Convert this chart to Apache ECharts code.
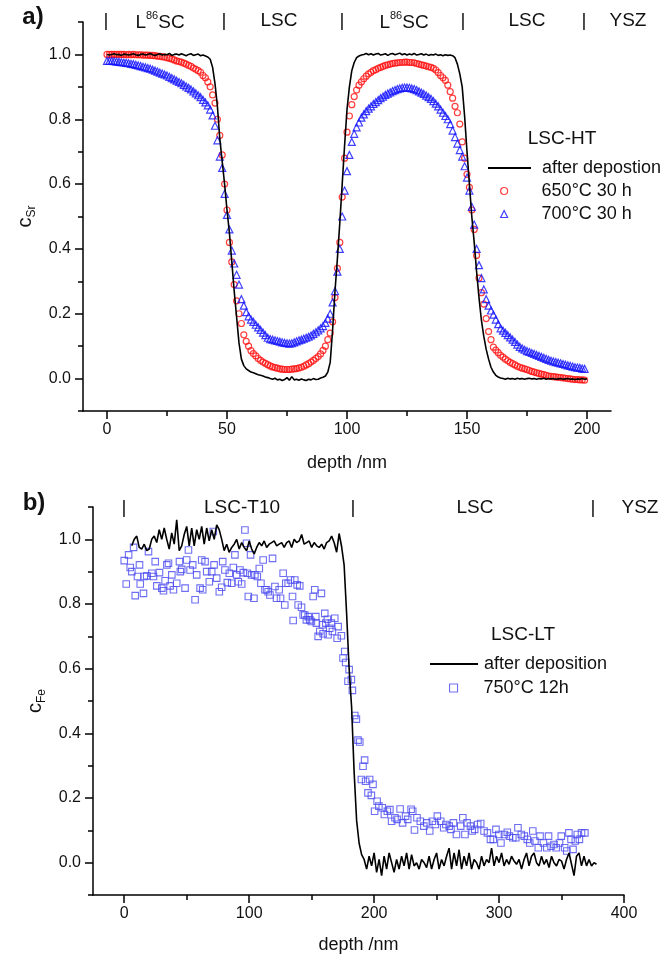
<!DOCTYPE html>
<html><head><meta charset="utf-8">
<script src="https://cdn.jsdelivr.net/npm/echarts@6/dist/echarts.min.js"></script>
<style>html,body{margin:0;padding:0;background:#fff}#c{width:667px;height:967px}</style>
</head><body><div id="c"></div>
<script>
// ---------- Panel a data (c_Sr, LSC-HT) ----------
const depthStartA = 0;      // nm, first sample
const depthStepA = 1;       // nm between samples
const srAfter = [
1.0,0.998,1.0,1.002,0.999,1.0,0.997,1.001,1.0,0.998,
1.0,1.002,0.999,0.997,1.0,1.001,0.998,1.0,1.003,0.999,
0.997,1.0,1.002,0.998,1.0,0.999,1.003,0.997,1.0,1.001,
0.998,1.002,0.999,0.996,1.0,1.002,0.997,0.999,1.001,0.996,
0.998,0.995,0.992,0.985,0.96,0.91,0.84,0.74,0.67,0.6,
0.52,0.45,0.36,0.27,0.19,0.11,0.06,0.04,0.03,0.025,
0.02,0.018,0.015,0.012,0.01,0.008,0.005,0.003,0.0,-0.002,
0.001,-0.004,-0.002,-0.006,-0.003,0.003,-0.005,0.006,-0.004,-0.002,
-0.005,-0.001,-0.004,-0.006,-0.002,-0.004,0.0,-0.003,-0.002,0.002,
0.004,0.008,0.02,0.05,0.15,0.27,0.37,0.48,0.6,0.72,
0.83,0.9,0.95,0.975,0.99,0.995,0.998,1.0,1.003,0.999,
1.002,0.998,1.001,1.003,0.998,1.0,1.002,0.997,1.001,1.003,
0.999,1.001,1.004,0.999,1.002,0.998,1.001,0.999,1.003,0.998,
1.0,1.002,0.998,1.001,0.997,1.0,0.998,1.001,0.997,0.999,
0.996,0.999,0.997,0.998,0.996,0.99,0.97,0.94,0.9,0.81,
0.7,0.6,0.5,0.42,0.33,0.25,0.18,0.13,0.09,0.06,
0.035,0.02,0.01,0.005,0.002,0.0,-0.002,0.001,-0.001,0.0,
-0.002,0.001,-0.001,0.0,-0.002,0.0,0.001,-0.001,0.0,-0.002,
0.0,-0.001,0.001,-0.002,0.0,-0.001,0.0,-0.002,-0.001,0.0,
-0.002,-0.001,0.0,-0.002,-0.001,-0.003,-0.001,-0.002,0.0,-0.002,
-0.001
];
const sr650 = [
1.0,1.0,1.0,1.0,1.0,1.0,1.0,1.0,0.999,1.0,
0.999,1.0,0.999,0.999,0.999,0.998,0.998,0.998,0.997,0.997,
0.996,0.995,0.994,0.993,0.992,0.99,0.988,0.986,0.983,0.98,
0.978,0.976,0.973,0.97,0.966,0.963,0.958,0.954,0.95,0.945,
0.935,0.928,0.915,0.9,0.875,0.85,0.8,0.75,0.69,0.6,
0.52,0.42,0.36,0.29,0.24,0.2,0.17,0.135,0.115,0.1,
0.086,0.077,0.07,0.062,0.056,0.051,0.047,0.043,0.039,0.036,
0.034,0.032,0.03,0.029,0.028,0.028,0.028,0.029,0.03,0.031,
0.033,0.035,0.038,0.042,0.046,0.051,0.056,0.062,0.068,0.076,
0.087,0.1,0.12,0.14,0.175,0.25,0.34,0.42,0.56,0.68,
0.76,0.81,0.845,0.87,0.89,0.905,0.915,0.925,0.933,0.94,
0.945,0.95,0.953,0.957,0.96,0.963,0.966,0.968,0.97,0.972,
0.973,0.974,0.975,0.975,0.976,0.976,0.975,0.975,0.974,0.972,
0.97,0.968,0.966,0.964,0.962,0.96,0.957,0.952,0.944,0.935,
0.928,0.92,0.905,0.885,0.865,0.84,0.82,0.785,0.73,0.68,
0.63,0.59,0.52,0.46,0.38,0.31,0.265,0.23,0.185,0.145,
0.12,0.097,0.088,0.08,0.072,0.066,0.06,0.055,0.05,0.046,
0.042,0.038,0.035,0.032,0.03,0.028,0.025,0.022,0.02,0.018,
0.016,0.014,0.012,0.01,0.008,0.007,0.006,0.005,0.004,0.003,
0.002,0.001,0.0,-0.001,-0.002,-0.003,-0.003,-0.004,-0.004,-0.005
];
const sr700 = [
0.98,0.98,0.98,0.979,0.978,0.977,0.976,0.975,0.974,0.973,
0.971,0.97,0.968,0.966,0.964,0.962,0.96,0.958,0.956,0.953,
0.95,0.947,0.944,0.941,0.938,0.935,0.931,0.927,0.923,0.919,
0.915,0.911,0.906,0.901,0.897,0.892,0.886,0.88,0.874,0.868,
0.86,0.852,0.843,0.83,0.812,0.78,0.735,0.685,0.65,0.57,
0.505,0.46,0.395,0.355,0.32,0.29,0.245,0.225,0.205,0.192,
0.182,0.175,0.166,0.158,0.15,0.142,0.134,0.126,0.122,0.12,
0.118,0.116,0.114,0.112,0.11,0.109,0.108,0.109,0.112,0.115,
0.118,0.12,0.123,0.126,0.129,0.133,0.138,0.143,0.149,0.155,
0.162,0.172,0.185,0.2,0.235,0.27,0.33,0.4,0.5,0.58,
0.64,0.69,0.73,0.755,0.775,0.79,0.805,0.815,0.825,0.833,
0.84,0.847,0.853,0.859,0.865,0.87,0.875,0.879,0.883,0.887,
0.89,0.893,0.895,0.897,0.898,0.898,0.897,0.895,0.893,0.89,
0.886,0.882,0.878,0.873,0.868,0.863,0.856,0.848,0.84,0.83,
0.82,0.81,0.8,0.785,0.765,0.745,0.725,0.705,0.685,0.655,
0.62,0.58,0.53,0.475,0.4,0.35,0.31,0.275,0.245,0.225,
0.21,0.197,0.182,0.168,0.155,0.148,0.141,0.134,0.127,0.12,
0.113,0.105,0.098,0.093,0.089,0.085,0.082,0.079,0.076,0.073,
0.07,0.067,0.064,0.061,0.058,0.055,0.053,0.051,0.049,0.047,
0.045,0.043,0.041,0.039,0.037,0.035,0.034,0.033,0.031,0.03
];
// ---------- Panel b data (c_Fe, LSC-LT) ----------
const depthStartB = 6;   // nm
const depthStepB = 2;    // nm
const feAfter = [
0.98,1.0,1.01,0.975,0.97,0.985,0.965,0.97,1.0,1.01,
0.99,1.03,1.0,1.035,1.0,0.97,1.02,0.985,1.06,0.965,
0.98,1.015,1.04,0.98,1.035,0.98,1.03,1.0,1.04,0.985,
1.035,0.995,1.03,1.0,1.045,1.03,1.0,0.965,0.985,0.96,
0.975,0.985,1.0,0.97,0.99,0.975,0.965,0.995,0.97,0.955,
0.975,0.99,0.98,0.995,0.975,0.985,0.99,0.995,0.98,0.985,
0.99,0.975,0.99,0.995,0.975,1.0,0.99,0.995,1.015,0.985,
0.99,0.995,0.975,0.99,0.98,0.975,0.985,0.97,0.99,0.995,
1.01,0.99,0.96,1.018,0.977,0.92,0.77,0.6,0.48,0.28,
0.13,0.06,0.025,0.01,
-0.02,0.02,-0.01,0.03,-0.03,0.01,-0.04,0.02,-0.02,0.03,
0.0,-0.03,0.01,-0.02,0.02,-0.01,0.03,-0.02,0.025,-0.01,
0.0,-0.02,0.01,0.0,-0.015,0.02,-0.02,0.01,0.03,-0.02,
0.01,-0.01,0.02,0.045,-0.02,0.03,-0.01,0.04,-0.02,0.02,
-0.01,0.03,-0.02,0.01,0.0,-0.02,0.02,-0.01,0.01,0.0,
0.045,-0.01,0.02,0.0,0.03,-0.01,0.01,-0.005,0.02,0.005,
-0.005,0.01,-0.02,0.01,0.03,-0.01,0.02,0.03,0.0,-0.01,
0.02,-0.005,0.01,-0.015,0.02,0.0,-0.01,0.01,0.005,-0.02,
0.01,0.03,-0.005,-0.04,0.02,0.03,-0.01,0.02,-0.01,0.01,
-0.01,0.0,-0.005
];
const feDepth750 = [
0,1.6,3.5,4.8,6.1,7.5,8.8,10.6,12.2,12.8,15.4,16,18,19.4,22.1,23.4,24.8,26.1,28.2,30.1,
31.4,32.7,34.1,35.4,36.7,38.1,39.4,42,44.2,44.9,46,48.7,50,51.4,52.7,54.8,56.7,58,60.7,62,
62.8,64.7,66,68.1,70,71.3,71.9,74,76.1,78,78.8,80.6,82.5,84.1,86,87.3,88.6,90,91.3,92.6,
94,95.3,96.6,97.9,98.5,99.3,101.1,101.9,103.8,104.6,106.5,108.1,109.4,111.2,112.6,113.9,115.2,116.6,118.7,120.6,
121.9,124,125.1,127.2,128.5,129.3,131.2,133.1,134.7,135.2,136.5,138.4,139.2,140.5,141.9,143.2,144.5,145.8,147.2,148.5,
149.8,151.2,152.5,153.3,153.8,155.2,156.5,157.8,158.6,159.2,160.5,161.3,162.6,163.1,164.5,165.8,166.6,168.5,170.4,171.2,
173.8,175.1,176.5,177.2,179.1,180,181.8,182.6,184.5,185.8,187.1,188.5,189.8,191.1,192.4,193.2,195.1,196.4,197.8,199.1,
200.4,202.4,203.8,206.5,208.2,210.6,212.6,214,216.7,218.4,220.8,222.8,225.2,226.9,229.6,230.9,232.3,234.3,237,239.8,
242.1,244.5,246.6,249,250.6,253.3,255.7,257.4,260.1,261.5,263.5,265.9,269.3,271,272.7,274.4,277.1,278.5,280.5,282.9,
285.3,288,290.7,293.1,295.4,297.5,299.8,301.5,304.3,306.6,308.3,311,313.4,315.1,317.8,320.2,322.6,324.6,327,328.7,
331.4,332.8,335.5,338.2,339.6,341.6,344,345.7,348.4,349.8,352.5,354.2,355.9,357.6,359.2,361,362.6,364.3,366,368.7
];
const fe750 = [
0.934,0.862,0.952,0.913,0.9,0.975,0.826,0.885,0.921,0.862,0.833,0.885,0.887,0.962,0.895,0.885,0.931,0.856,0.897,0.849,
0.841,0.872,0.921,0.926,0.856,0.89,0.844,0.864,0.931,0.9,0.907,0.849,0.936,0.967,0.905,0.921,0.813,0.89,0.849,0.936,
0.844,0.931,0.9,0.869,0.9,1.024,0.921,0.88,0.838,0.852,0.931,0.905,0.866,0.895,0.864,0.913,0.952,0.89,0.869,0.905,
0.862,0.897,1.029,0.988,0.895,0.823,0.952,0.89,0.818,0.89,0.885,0.91,0.864,0.936,0.844,0.844,0.838,0.828,0.941,0.854,
0.818,0.844,0.818,0.895,0.797,0.864,0.864,0.874,0.823,0.749,0.874,0.859,0.797,0.856,0.79,0.766,0.766,0.751,0.761,0.751,
0.746,0.823,0.844,0.761,0.741,0.7,0.715,0.833,0.736,0.708,0.771,0.741,0.753,0.705,0.725,0.741,0.715,0.756,0.694,0.73,
0.702,0.633,0.653,0.619,0.561,0.597,0.566,0.533,0.455,0.444,0.379,0.373,0.257,0.298,0.317,0.252,0.216,0.257,0.208,0.242,
0.159,0.19,0.175,0.17,0.149,0.159,0.164,0.128,0.139,0.134,0.166,0.123,0.144,0.134,0.165,0.159,0.101,0.139,0.128,0.113,
0.123,0.098,0.128,0.118,0.144,0.128,0.108,0.118,0.113,0.103,0.123,0.087,0.113,0.139,0.087,0.123,0.113,0.098,0.103,0.118,
0.121,0.098,0.092,0.072,0.072,0.103,0.087,0.061,0.087,0.094,0.082,0.077,0.077,0.108,0.087,0.082,0.072,0.061,0.098,0.067,
0.046,0.082,0.061,0.046,0.082,0.051,0.056,0.046,0.061,0.082,0.046,0.036,0.092,0.072,0.041,0.067,0.087,0.072,0.092,0.092
];
// ---------- Tick values ----------
const yMajor = [0, 0.2, 0.4, 0.6, 0.8, 1.0];
const yMinor = [-0.1, 0.1, 0.3, 0.5, 0.7, 0.9, 1.1];
const xMajorA = [0, 50, 100, 150, 200];
const xMinorA = [25, 75, 125, 175];
const xMajorB = [0, 100, 200, 300, 400];
const xMinorB = [50, 150, 250, 350];

const FONT = "'Liberation Sans', Arial, Helvetica, sans-serif";
const AX = '#000';

function xAxisPair(grid, min, max, major, minor, nameGap) {
  return [{
    type: 'value', gridIndex: grid, position: 'bottom', min: min, max: max,
    axisLine: {show: true, onZero: false, lineStyle: {color: AX, width: 1.5}},
    axisTick: {show: true, length: 8, customValues: major, lineStyle: {color: AX, width: 1.5}},
    axisLabel: {customValues: major, fontSize: 16, fontFamily: FONT, color: '#111', margin: 11},
    splitLine: {show: false},
    name: 'depth /nm', nameLocation: 'middle', nameGap: nameGap,
    nameTextStyle: {fontSize: 18, fontFamily: FONT, color: '#111'}
  }, {
    type: 'value', gridIndex: grid, position: 'bottom', min: min, max: max,
    axisLine: {show: false, onZero: false},
    axisTick: {show: true, length: 5, customValues: minor, lineStyle: {color: AX, width: 1.5}},
    axisLabel: {show: false}, splitLine: {show: false}
  }];
}
function yAxisPair(grid, sub, nameGap) {
  return [{
    type: 'value', gridIndex: grid, position: 'left', min: -0.1, max: 1.1,
    axisLine: {show: true, onZero: false, lineStyle: {color: AX, width: 1.5}},
    axisTick: {show: true, length: 8, customValues: yMajor, lineStyle: {color: AX, width: 1.5}},
    axisLabel: {customValues: yMajor, fontSize: 16, fontFamily: FONT, color: '#111', margin: 12,
      formatter: function (v) { return v.toFixed(1); }},
    splitLine: {show: false},
    name: '{c|c}{s|' + sub + '}', nameLocation: 'middle', nameGap: nameGap,
    nameTextStyle: {fontFamily: FONT, color: '#111', rich: {
      c: {fontSize: 20, fontFamily: FONT, color: '#111', lineHeight: 22, verticalAlign: 'top'},
      s: {fontSize: 12, fontFamily: FONT, color: '#111', lineHeight: 12, verticalAlign: 'bottom'}
    }}
  }, {
    type: 'value', gridIndex: grid, position: 'left', min: -0.1, max: 1.1,
    axisLine: {show: false, onZero: false},
    axisTick: {show: true, length: 5, customValues: yMinor, lineStyle: {color: AX, width: 1.5}},
    axisLabel: {show: false}, splitLine: {show: false}
  }];
}

function seq(start, step, vals) { return vals.map(function (v, i) { return [start + i * step, v]; }); }
function pairs(xs, ys) { return xs.map(function (x, i) { return [x, ys[i]]; }); }

function txt(x, y, text, size, extra) {
  const s = Object.assign({text: text, x: x, y: y, fill: '#111', font: size + 'px ' + FONT,
    textAlign: 'center', textVerticalAlign: 'middle', align: 'center', verticalAlign: 'middle'}, extra || {});
  return {type: 'text', silent: true, style: s};
}
function supL(x, y) {
  return txt(x, y, '{a|L}{b|86}{a|SC}', 19, {rich: {
    a: {font: '19px ' + FONT, fill: '#111', lineHeight: 22, verticalAlign: 'bottom'},
    b: {font: '11px ' + FONT, fill: '#111', lineHeight: 11, verticalAlign: 'top'}
  }});
}

const redRing = {color: 'rgba(0,0,0,0)', borderColor: '#ff1010', borderWidth: 1.2};
const blueTri = {color: 'rgba(0,0,0,0)', borderColor: '#1010ff', borderWidth: 1.2};
const blueSq = {color: 'rgba(0,0,0,0)', borderColor: '#4a4af0', borderWidth: 1.1};
const noDot = {color: 'rgba(0,0,0,0)', borderWidth: 0, opacity: 0};
const legText = function (padLeft) {
  return {fontSize: 18, fontFamily: FONT, color: '#111', lineHeight: 18, padding: [0, 0, 0, padLeft]};
};

const option = {
  animation: false,
  backgroundColor: '#fff',
  grid: [
    {left: 83, top: 22, width: 528, height: 389, outerBoundsMode: 'none', containLabel: false},
    {left: 93, top: 507, width: 531, height: 388, outerBoundsMode: 'none', containLabel: false}
  ],
  xAxis: xAxisPair(0, -10, 210, xMajorA, xMinorA, 43).concat(xAxisPair(1, -25, 400, xMajorB, xMinorB, 41)),
  yAxis: yAxisPair(0, 'Sr', 42).concat(yAxisPair(1, 'Fe', 42)),
  legend: [{
    data: [{name: 'after depostion', itemStyle: noDot}],
    orient: 'vertical', left: 487, top: 159, itemWidth: 43, itemHeight: 7, itemGap: 5,
    selectedMode: false, padding: 0, lineStyle: {width: 2},
    textStyle: legText(6)
  }, {
    data: [
      {name: '650°C 30 h', itemStyle: redRing},
      {name: '700°C 30 h', itemStyle: blueTri}
    ],
    orient: 'vertical', left: 500, top: 182, itemWidth: 7, itemHeight: 7, itemGap: 5,
    selectedMode: false, padding: 0,
    textStyle: legText(29)
  }, {
    data: [{name: 'after deposition', itemStyle: noDot}],
    orient: 'vertical', left: 429, top: 655, itemWidth: 48, itemHeight: 7, itemGap: 6,
    selectedMode: false, padding: 0, lineStyle: {width: 2},
    textStyle: legText(1)
  }, {
    data: [{name: '750°C 12h', itemStyle: blueSq}],
    orient: 'vertical', left: 449, top: 679, itemWidth: 8, itemHeight: 8, itemGap: 6,
    selectedMode: false, padding: 0,
    textStyle: legText(21)
  }],
  series: [
    {type: 'scatter', name: '650°C 30 h', xAxisIndex: 0, yAxisIndex: 0, data: seq(depthStartA, depthStepA, sr650),
      symbol: 'circle', symbolSize: 6, itemStyle: redRing, z: 2},
    {type: 'scatter', name: '700°C 30 h', xAxisIndex: 0, yAxisIndex: 0, data: seq(depthStartA, depthStepA, sr700),
      symbol: 'triangle', symbolSize: 7, itemStyle: blueTri, z: 2},
    {type: 'line', name: 'after depostion', xAxisIndex: 0, yAxisIndex: 0, data: seq(depthStartA, depthStepA, srAfter),
      symbol: 'none', showSymbol: false, lineStyle: {color: '#000', width: 1.6}, itemStyle: {color: '#000'}, z: 3},
    {type: 'scatter', name: '750°C 12h', xAxisIndex: 2, yAxisIndex: 2, data: pairs(feDepth750, fe750),
      symbol: 'rect', symbolSize: 6.5, itemStyle: blueSq, z: 2},
    {type: 'line', name: 'after deposition', xAxisIndex: 2, yAxisIndex: 2, data: seq(depthStartB, depthStepB, feAfter),
      symbol: 'none', showSymbol: false, lineStyle: {color: '#000', width: 1.6}, itemStyle: {color: '#000'}, z: 3}
  ],
  graphic: [
    txt(33, 17, 'a)', 24, {font: 'bold 24px ' + FONT}),
    txt(34, 503, 'b)', 24, {font: 'bold 24px ' + FONT}),
    txt(106, 21, '|', 19), supL(160, 21), txt(224, 21, '|', 19), txt(279, 21, 'LSC', 19),
    txt(342, 21, '|', 19), supL(404, 21), txt(463, 21, '|', 19), txt(527, 21, 'LSC', 19),
    txt(584, 21, '|', 19), txt(628, 21, 'YSZ', 19),
    txt(124, 508, '|', 19), txt(242, 508, 'LSC-T10', 19), txt(353, 508, '|', 19),
    txt(475, 508, 'LSC', 19), txt(593, 508, '|', 19), txt(640, 508, 'YSZ', 19),
    txt(562, 139, 'LSC-HT', 19),
    txt(523, 635, 'LSC-LT', 19)
  ]
};
const chart = echarts.init(document.getElementById('c'), null, {renderer: 'canvas'});
chart.setOption(option);
</script>
</body></html>
